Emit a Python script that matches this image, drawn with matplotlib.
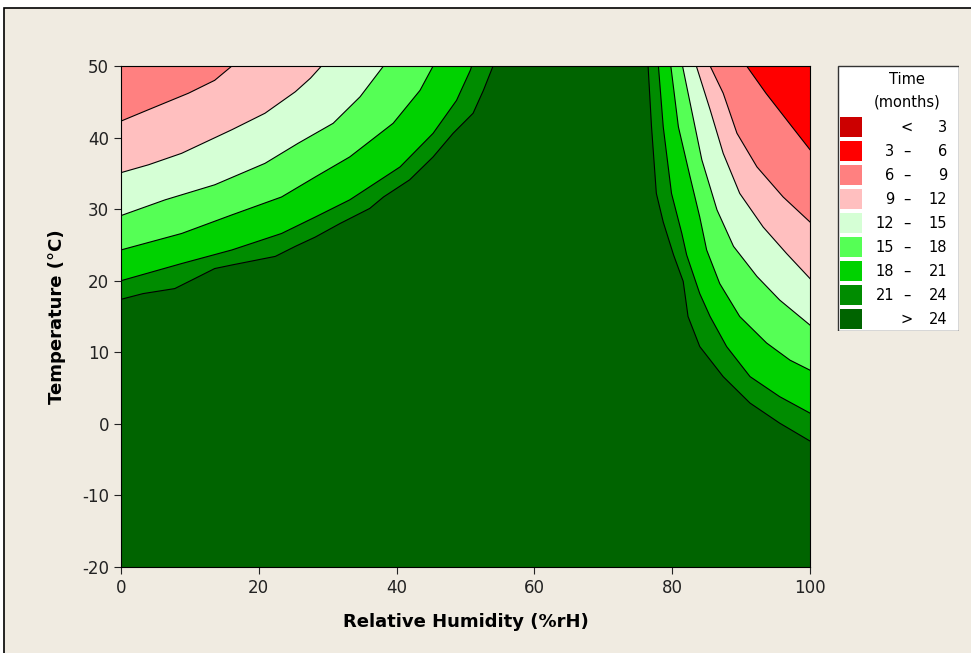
import matplotlib.pyplot as plt
from matplotlib.patches import Rectangle

plt.rcParams['axes.unicode_minus'] = False

# band colours, lowest months first (<3 ... >24)
band_colors = ['#CC0000', '#FF0000', '#FF8080', '#FFBFBF', '#D5FFD5',
               '#55FF55', '#00D200', '#008C00', '#006400']
band_labels = [('', '<', '3'), ('3', '\u2013', '6'), ('6', '\u2013', '9'),
               ('9', '\u2013', '12'), ('12', '\u2013', '15'), ('15', '\u2013', '18'),
               ('18', '\u2013', '21'), ('21', '\u2013', '24'), ('', '>', '24')]

# contour boundaries, (RH %, Temperature C)
# left side: from the RH=0 edge up to the T=50 edge
left_24 = [(0, 17.4), (3.2, 18.2), (7.8, 18.9), (10.5, 20.2), (13.6, 21.7), (16.1, 22.2),
           (22.4, 23.4), (25.3, 24.8), (28.2, 26.1), (31.8, 28.0), (36.1, 30.1),
           (38.1, 31.7), (41.9, 34.1), (45.3, 37.3), (48.2, 40.6), (51.1, 43.4),
           (52.6, 46.6), (54.0, 50)]
left_21 = [(0, 20.0), (8.8, 22.4), (16.1, 24.3), (23.3, 26.6), (28.2, 28.9), (33.2, 31.3),
           (40.5, 35.9), (45.3, 40.6), (48.7, 45.2), (50.7, 49.4), (50.9, 50)]
left_18 = [(0, 24.3), (8.8, 26.6), (16.1, 29.2), (23.3, 31.7), (28.2, 34.5), (33.2, 37.3),
           (39.5, 42.0), (43.4, 46.6), (45.3, 50)]
left_15 = [(0, 29.1), (6.4, 31.3), (13.6, 33.4), (20.9, 36.4), (25.7, 39.2), (30.8, 42.0),
           (34.7, 45.7), (38.1, 50)]
left_12 = [(0, 35.1), (4.0, 36.2), (8.8, 37.8), (16.1, 41.1), (20.9, 43.4), (25.3, 46.4),
           (27.5, 48.3), (29.1, 50)]
left_9 = [(0, 42.3), (4.0, 43.9), (9.8, 46.2), (13.6, 48.0), (16.1, 50)]

# right side: from the T=50 edge down to the RH=100 edge
right_24 = [(76.5, 50), (77.0, 41.5), (77.7, 32.2), (78.7, 28.2), (80.2, 23.6), (81.6, 19.9),
            (82.3, 15.0), (84.0, 10.8), (87.4, 6.6), (91.3, 2.9), (95.6, 0.1), (100, -2.4)]
right_21 = [(78.0, 50), (78.7, 41.5), (79.9, 32.2), (81.4, 26.6), (82.1, 23.6),
            (84.0, 18.2), (85.5, 15.0), (87.9, 10.8), (91.3, 6.6), (95.6, 3.8), (100, 1.5)]
right_18 = [(79.8, 50), (80.9, 41.5), (82.6, 34.5), (84.0, 28.9), (85.0, 24.3),
            (86.9, 19.6), (89.8, 15.0), (93.7, 11.3), (97.1, 8.9), (100, 7.5)]
right_15 = [(81.5, 50), (82.8, 43.9), (84.3, 36.9), (86.5, 29.9), (88.9, 24.8),
            (92.3, 20.6), (95.6, 17.3), (100, 13.8)]
right_12 = [(83.5, 50), (85.5, 43.9), (87.4, 37.8), (89.8, 32.2), (93.2, 27.5),
            (96.6, 23.8), (100, 20.3)]
right_9 = [(85.5, 50), (87.4, 46.2), (89.4, 40.6), (92.3, 35.9), (96.1, 31.7), (100, 28.2)]
right_6 = [(90.8, 50), (93.6, 46.2), (97.4, 41.5), (100, 38.3)]

left_curves = [left_24, left_21, left_18, left_15, left_12, left_9]
right_curves = [right_24, right_21, right_18, right_15, right_12, right_9, right_6]

fig = plt.figure(figsize=(9.71, 6.53), dpi=100, facecolor='white')
fig.patches.append(Rectangle((4 / 971, -0.05), 1.1, 1 - 8 / 653 + 0.05,
                             transform=fig.transFigure, facecolor='#F0EBE1',
                             edgecolor='black', linewidth=1.2, zorder=-5))

ax = fig.add_axes([121 / 971, 1 - 567 / 653, 689 / 971, 501 / 653])
ax.set_facecolor(band_colors[-1])

# each curve bounds the region of shorter life towards its corner
for i, curve in enumerate(left_curves):
    rh = [p[0] for p in curve]
    t = [p[1] for p in curve]
    ax.fill(rh + [0], t + [50], color=band_colors[7 - i], lw=0)
    ax.plot(rh, t, color='black', lw=0.8)
for i, curve in enumerate(right_curves):
    rh = [p[0] for p in curve]
    t = [p[1] for p in curve]
    ax.fill(rh + [100], t + [50], color=band_colors[7 - i], lw=0)
    ax.plot(rh, t, color='black', lw=0.8)

ax.set_xlim(0, 100)
ax.set_ylim(-20, 50)
ax.set_xticks(range(0, 101, 20))
ax.set_yticks(range(-20, 51, 10))
ax.tick_params(direction='out', length=5, width=0.8, labelsize=12, colors='#222222')
for s in ax.spines.values():
    s.set_linewidth(0.8)
ax.set_xlabel('Relative Humidity (%rH)', fontsize=13, fontweight='bold', labelpad=12)
ax.set_ylabel('Temperature (\u00b0C)', fontsize=13, fontweight='bold', labelpad=12)

# legend box, laid out in pixels of the box
lg = fig.add_axes([837 / 971, 1 - 331 / 653, 122 / 971, 266 / 653])
lg.set_xlim(0, 122)
lg.set_ylim(266, 0)
lg.axis('off')
lg.add_patch(Rectangle((0.5, 0.5), 121, 265, facecolor='white', edgecolor='#333333', lw=1))
lg.text(70, 14, 'Time', ha='center', va='center', fontsize=10.5)
lg.text(70, 37, '(months)', ha='center', va='center', fontsize=10.5)
for i, (lo, sep, hi) in enumerate(band_labels):
    y = 62 + i * 24
    lg.add_patch(Rectangle((3, y - 10), 22, 20, facecolor=band_colors[i], edgecolor='none'))
    lg.text(57, y, lo, ha='right', va='center', fontsize=10.5)
    lg.text(70, y, sep, ha='center', va='center', fontsize=10.5)
    lg.text(110, y, hi, ha='right', va='center', fontsize=10.5)

fig.savefig('out.png', dpi=100, facecolor=fig.get_facecolor())
